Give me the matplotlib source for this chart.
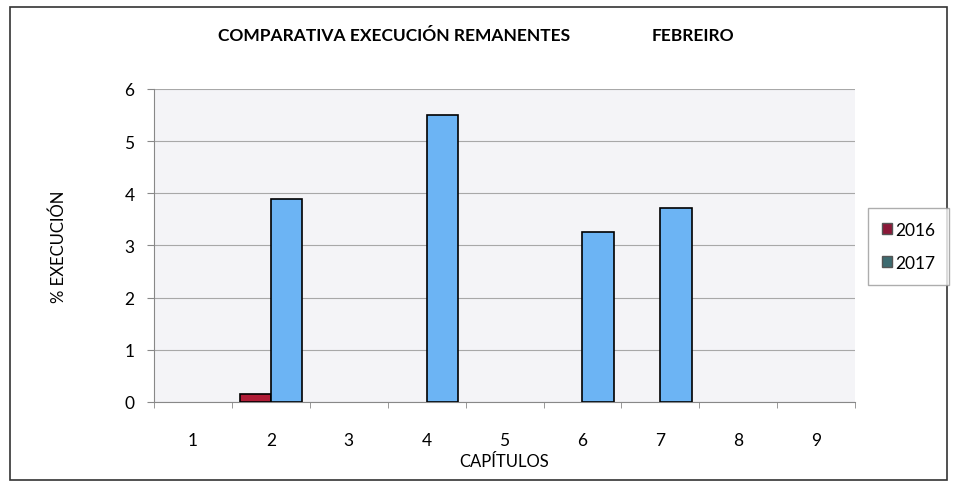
import numpy as np
import matplotlib.pyplot as plt
from matplotlib.patches import Rectangle, Patch

plt.rcParams['font.family'] = ['Lato', 'DejaVu Sans']

capitulos = ['1', '2', '3', '4', '5', '6', '7', '8', '9']
v2016 = [0, 0.15, 0, 0, 0, 0, 0, 0, 0]
v2017 = [0, 3.9, 0, 5.5, 0, 3.25, 3.72, 0, 0]

fig = plt.figure(figsize=(9.54, 4.89), dpi=100)
# marco exterior
fig.patches.append(Rectangle((0.011, 0.016), 0.982, 0.968, transform=fig.transFigure,
                             fill=False, edgecolor='#333333', lw=1.2))

ax = fig.add_axes([0.1614, 0.176, 0.735, 0.640])
ax.set_facecolor('#f4f4f7')
x = np.arange(len(capitulos))
w = 0.4
lw16 = [1.2 if v > 0 else 0 for v in v2016]
lw17 = [1.2 if v > 0 else 0 for v in v2017]
ax.bar(x - w / 2, v2016, w, color='#b01c36', edgecolor='black', linewidth=lw16, zorder=3)
ax.bar(x + w / 2, v2017, w, color='#6cb4f4', edgecolor='black', linewidth=lw17, zorder=3)

ax.set_xlim(-0.5, len(capitulos) - 0.5)
ax.set_ylim(0, 6)
ax.set_yticks(range(7))
ax.yaxis.grid(True, color='#a8a8a8', lw=0.8, zorder=0)
ax.set_xticks(x)
ax.set_xticklabels(capitulos)
ax.set_xticks(np.arange(-0.5, len(capitulos), 1), minor=True)
ax.tick_params(axis='x', which='major', length=0, pad=22, labelsize=12.5)
ax.tick_params(axis='x', which='minor', length=4, color='#888888')
ax.tick_params(axis='y', length=5, color='#888888', labelsize=12.5, pad=9)
for s in ['top', 'right']:
    ax.spines[s].set_visible(False)
ax.spines['left'].set_color('#888888')
ax.spines['bottom'].set_color('#888888')

ax.set_xlabel('CAPÍTULOS', fontsize=12, labelpad=3)
ax.set_ylabel('% EXECUCIÓN', fontsize=12, labelpad=41)

fig.text(0.229, 0.917, 'COMPARATIVA EXECUCIÓN REMANENTES', fontsize=12.5, fontweight='bold')
fig.text(0.683, 0.917, 'FEBREIRO', fontsize=12.5, fontweight='bold')

handles = [Patch(facecolor='#8b1838', edgecolor='#555555', label='2016'),
           Patch(facecolor='#3d6b70', edgecolor='#555555', label='2017')]
leg = fig.legend(handles=handles, loc='upper left', bbox_to_anchor=(0.910, 0.573),
                 frameon=True, fancybox=False, fontsize=12.5, handlelength=0.6,
                 handleheight=0.6, handletextpad=0.15, labelspacing=1.0,
                 borderpad=0.8, borderaxespad=0)
leg.get_frame().set_edgecolor('#999999')
leg.get_frame().set_linewidth(1.0)

fig.savefig('out.png', dpi=100)
